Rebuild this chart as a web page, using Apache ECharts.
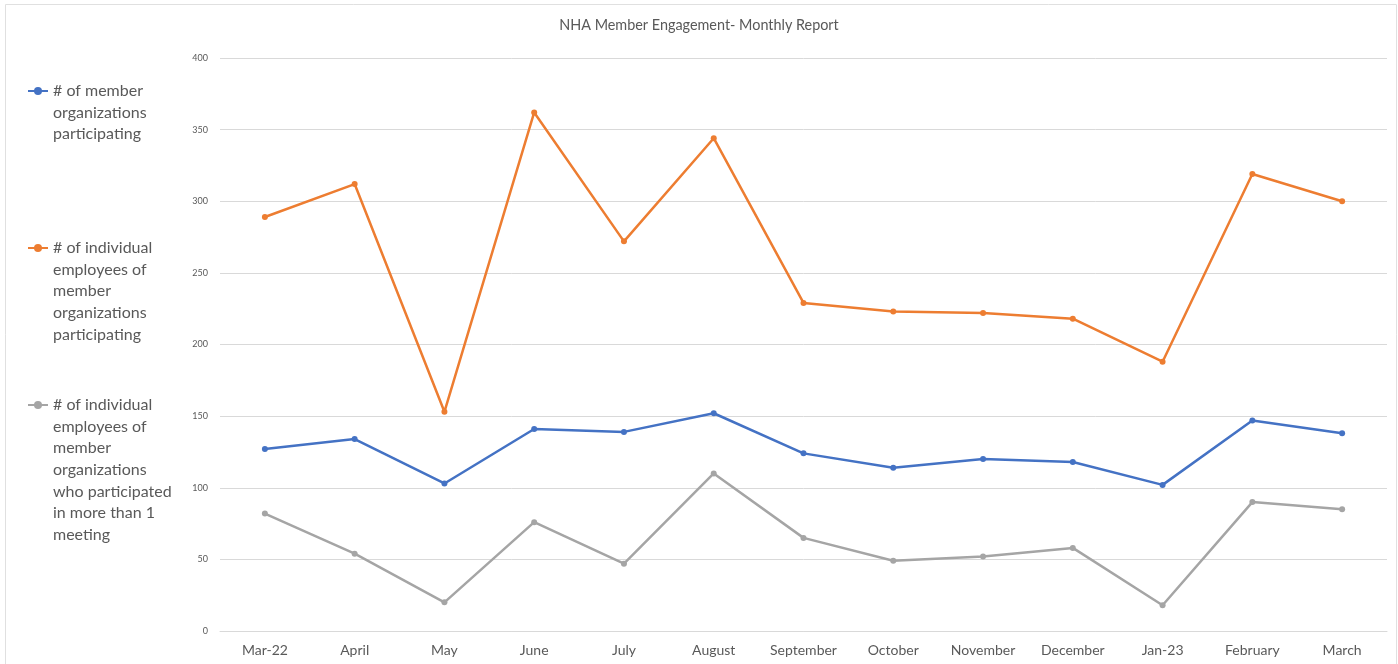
<!DOCTYPE html>
<html>
<head>
<meta charset="utf-8">
<script src="https://cdn.jsdelivr.net/npm/echarts@6/dist/echarts.min.js"></script>
<style>
html,body{margin:0;padding:0;background:#fff;}
#chart{width:1398px;height:664px;}
</style>
</head>
<body>
<div id="chart"></div>
<script>
const categories = ['Mar-22','April','May','June','July','August','September','October','November','December','Jan-23','February','March'];
const orgs = [127,134,103,141,139,152,124,114,120,118,102,147,138];
const employees = [289,312,153,362,272,344,229,223,222,218,188,319,300];
const repeatEmployees = [82,54,20,76,47,110,65,49,52,58,18,90,85];
const seriesNames = [
  '# of member organizations participating',
  '# of individual employees of member organizations participating',
  '# of individual employees of member organizations who participated in more than 1 meeting'
];
const legendLabels = [
  '# of member\norganizations\nparticipating',
  '# of individual\nemployees of\nmember\norganizations\nparticipating',
  '# of individual\nemployees of\nmember\norganizations\nwho participated\nin more than 1\nmeeting'
];
const colors = ['#4472c4','#ed7d31','#a5a5a5'];
const FONT = 'Lato, "Open Sans", sans-serif';
const LH = 21.6;

const chart = echarts.init(document.getElementById('chart'));
// The legend icon is centred on the text block; leading blank lines put it on the first line.
function mkLegend(i, firstLineY) {
  const n = legendLabels[i].split('\n').length;
  const label = '\n'.repeat(n - 1) + legendLabels[i];
  const H = (2 * n - 1) * LH;
  return {
    data: [seriesNames[i]],
    orient: 'vertical',
    left: 22,
    top: firstLineY - 5 - H / 2,
    itemWidth: 20,
    itemHeight: 10,
    selectedMode: false,
    formatter: () => label,
    textStyle: {
      fontFamily: FONT,
      fontSize: 16,
      color: '#595959',
      lineHeight: LH
    }
  };
}
chart.setOption({
  animation: false,
  backgroundColor: '#fff',
  color: colors,
  title: {
    text: 'NHA Member Engagement- Monthly Report',
    left: 'center',
    top: 13,
    textStyle: {fontFamily: FONT, fontSize: 14.4, fontWeight: 'normal', color: '#595959'}
  },
  graphic: [{
    type: 'rect',
    shape: {x: 5.5, y: 4.5, width: 1391, height: 670},
    style: {fill: 'none', stroke: '#e0e0e0', lineWidth: 1},
    silent: true
  }],
  legend: [mkLegend(0, 91), mkLegend(1, 248), mkLegend(2, 405)],
  grid: {left: 220, right: 11, top: 58, bottom: 33},
  xAxis: {
    type: 'category',
    data: categories,
    boundaryGap: true,
    axisLine: {lineStyle: {color: '#d9d9d9'}},
    axisTick: {show: false},
    axisLabel: {fontFamily: FONT, fontSize: 14, color: '#595959', margin: 12}
  },
  yAxis: {
    type: 'value',
    min: 0, max: 400, interval: 50,
    axisLine: {show: false},
    axisTick: {show: false},
    splitLine: {lineStyle: {color: '#d9d9d9'}},
    axisLabel: {fontFamily: FONT, fontSize: 9, color: '#595959', margin: 12}
  },
  series: [
    {name: seriesNames[0], type: 'line', data: orgs, symbol: 'circle', symbolSize: 6, lineStyle: {width: 2.5}},
    {name: seriesNames[1], type: 'line', data: employees, symbol: 'circle', symbolSize: 6, lineStyle: {width: 2.5}},
    {name: seriesNames[2], type: 'line', data: repeatEmployees, symbol: 'circle', symbolSize: 6, lineStyle: {width: 2.5}}
  ]
});
</script>
</body>
</html>
